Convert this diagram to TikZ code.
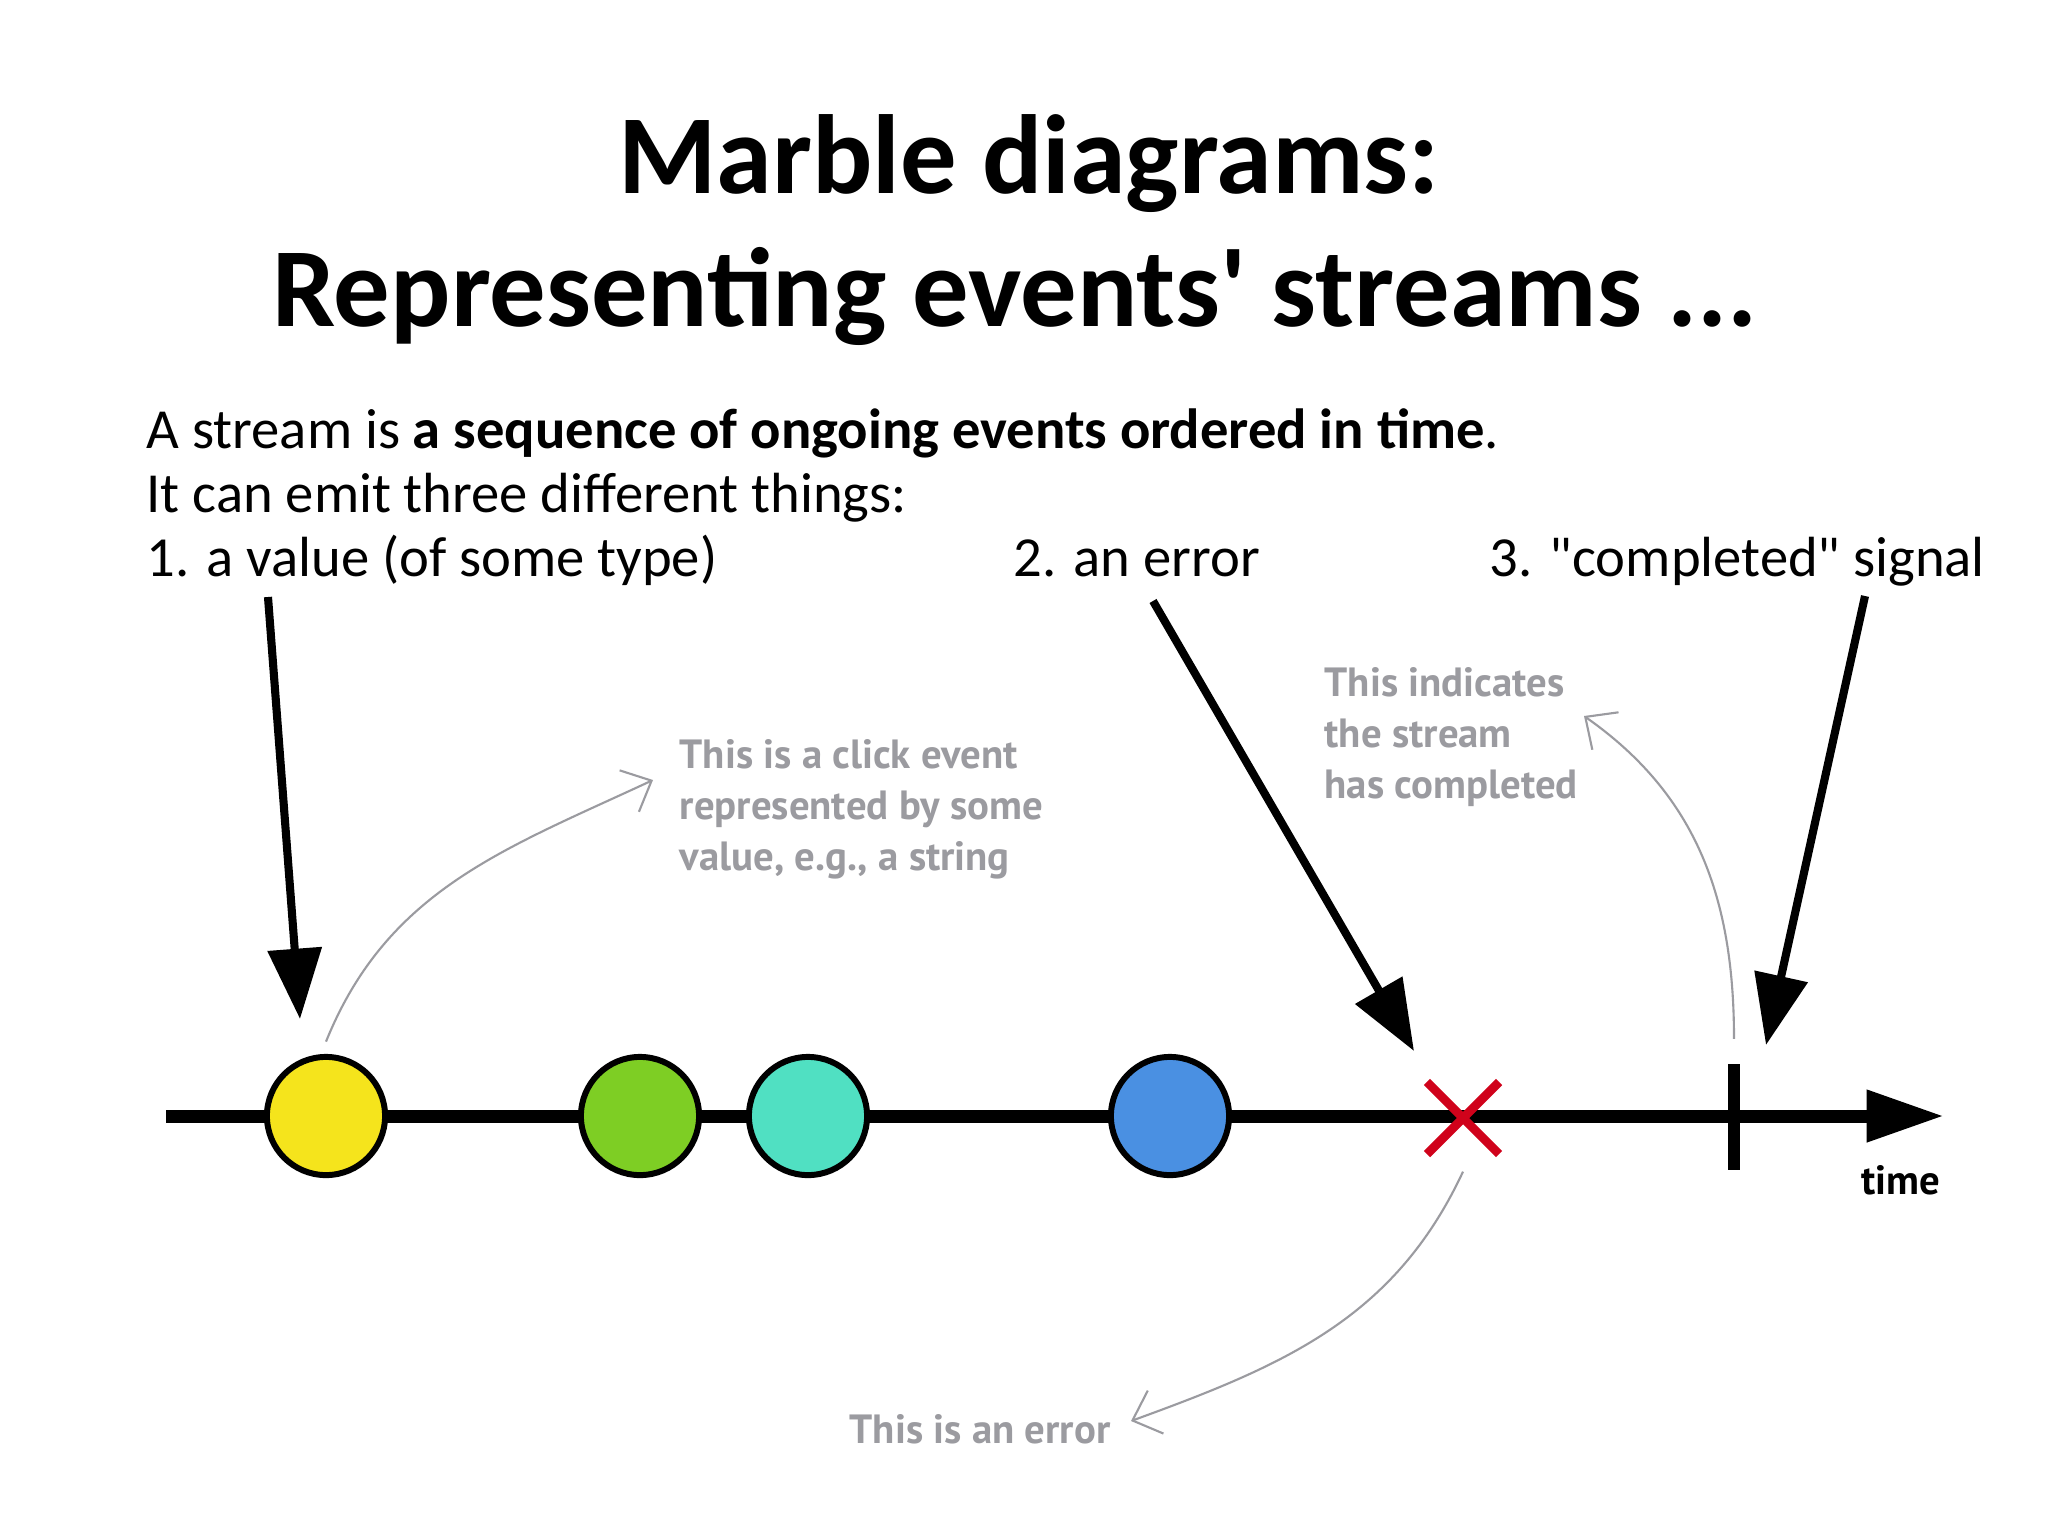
\documentclass[tikz,border=0pt]{standalone}
\usepackage{fontspec}
\setmainfont{Carlito}[Ligatures=TeXOff]
\newfontfamily\notefont{PT Sans}
\usetikzlibrary{arrows.meta,positioning,shapes.misc}
\definecolor{marbleyellow}{RGB}{245,228,28}
\definecolor{marblegreen}{RGB}{126,206,36}
\definecolor{marbleteal}{RGB}{80,224,194}
\definecolor{marbleblue}{RGB}{74,144,226}
\definecolor{errred}{RGB}{208,2,27}
\definecolor{notegray}{RGB}{155,155,160}

\begin{document}
\begin{tikzpicture}[
    x=0.01cm, y=-0.01cm,
    every node/.style={inner sep=0pt},
    title/.style={font=\fontsize{32}{38}\selectfont\bfseries, anchor=base},
    body/.style={font=\fontsize{16.1}{19}\selectfont, anchor=base west},
    note/.style={font=\notefont\bfseries\fontsize{11.6}{14.5}\selectfont, text=notegray, align=left, anchor=base west},
    marble/.style={circle, draw, line width=1.7pt, minimum size=33.6pt, fill=#1},
    errmark/.style={cross out, draw=errred, line width=2.5pt, minimum size=18pt},
    donemark/.style={fill=black, minimum width=3.4pt, minimum height=30pt},
    ptr/.style={-{Triangle[length=20pt,width=15pt]}, line width=2.3pt},
    notearr/.style={-{Straight Barb[length=7pt,width=13pt]}, line width=0.6pt, notegray},
    timeline/.style={-{Triangle[length=22pt,width=14pt]}, line width=3.7pt},
]
\fill[white] (0,0) rectangle (2048,1536);
\useasboundingbox (0,0) rectangle (2048,1536);

\node[title] (title1) at (1029,193) {Marble diagrams:};
\node[title] (title2) at (1015,326) {Representing events' streams ...};

\node[body] (intro) at (146,448) {A stream is \textbf{a sequence of ongoing events ordered in time}.};
\node[body] (emits) at (146,512) {It can emit three different things:};
\node[body] (kind1) at (146,576) {1. a value (of some type)};
\node[body] (kind2) at (1013,576) {2. an error};
\node[body] (kind3) at (1489,576) {3. "completed" signal};

\coordinate (t0) at (166,1116);
\coordinate (t1) at (1944,1116);
\draw[timeline] (t0) -- (t1);
\node[note, text=black] (timelbl) at (1861,1194) {time};

\node[marble=marbleyellow] (v1) at (326,1116) {};
\node[marble=marblegreen] (v2) at (640,1116) {};
\node[marble=marbleteal] (v3) at (808,1116) {};
\node[marble=marbleblue] (v4) at (1170,1116) {};
\node[errmark] (err) at (1463,1118) {};
\node[donemark] (done) at (1734,1117) {};

\node[note] (n1) at (679,870) {This is a click event\\represented by some\\value, e.g., a string};
\node[note] (n2) at (1324,798) {This indicates\\the stream\\has completed};
\node[note] (n3) at (849,1443) {This is an error};

\coordinate (p1) at (268,597); \coordinate (h1) at (300,1019);
\coordinate (p2) at (1153,601); \coordinate (h2) at (1414,1051);
\coordinate (p3) at (1865,596); \coordinate (h3) at (1766,1045);
\draw[ptr] (p1) -- (h1);
\draw[ptr] (p2) -- (h2);
\draw[ptr] (p3) -- (h3);

\coordinate (c1) at (653,780);
\coordinate (c2) at (1584,716);
\coordinate (c3) at (1131,1421);
\draw[notearr] ([yshift=3.5pt]v1.north) to[out=68, in=205] (c1);
\draw[notearr] ([yshift=7pt]done.north) to[out=90, in=-35] (c2);
\draw[notearr] ([yshift=-5pt]err.south) to[out=-115, in=20] (c3);
\end{tikzpicture}
\end{document}
